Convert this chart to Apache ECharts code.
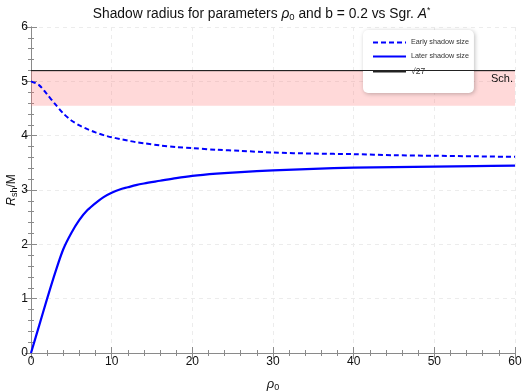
<!DOCTYPE html>
<html><head><meta charset="utf-8">
<script src="https://cdn.jsdelivr.net/npm/echarts@6/dist/echarts.min.js"></script>
<style>html,body{margin:0;padding:0;background:#fff}#c{width:523px;height:392px}</style>
</head><body><div id="c"></div>
<script>
const earlyX = [0, 1, 2, 3, 4, 5, 6, 7, 8, 9, 10, 11, 12, 13, 14, 16, 18, 20, 23, 26, 30, 35, 40, 45, 50, 55, 60];
const earlyY = [5.0, 4.93, 4.76, 4.58, 4.41, 4.28, 4.19, 4.12, 4.06, 4.01, 3.97, 3.94, 3.91, 3.88, 3.86, 3.82, 3.79, 3.77, 3.74, 3.72, 3.69, 3.67, 3.66, 3.64, 3.63, 3.62, 3.61];
const laterX = [0, 1, 2, 3, 4, 5, 6, 7, 8, 9, 10, 11, 12, 13, 14, 16, 18, 20, 23, 26, 30, 35, 40, 45, 50, 55, 60];
const laterY = [0, 0.5, 1.0, 1.48, 1.91, 2.21, 2.45, 2.63, 2.76, 2.87, 2.95, 3.01, 3.05, 3.09, 3.12, 3.17, 3.22, 3.26, 3.30, 3.33, 3.36, 3.39, 3.41, 3.42, 3.43, 3.44, 3.45];
const schRadius = Math.sqrt(27);
const bandLow = 4.55;
const xRange = [0, 60];
const yRange = [0, 6];

const font = '"Liberation Sans", Arial, sans-serif';
const zip = (a, b) => a.map((v, i) => [v, b[i]]);

const chart = echarts.init(document.getElementById('c'));
const frameLine = {show: true, lineStyle: {color: '#8a8a8a', width: 1}};
function xAx(pos, labels) {
  return {
    type: 'value', position: pos, min: xRange[0], max: xRange[1], interval: 10,
    axisLine: frameLine,
    axisTick: {show: true, inside: true, length: 6, lineStyle: {color: '#8a8a8a'}},
    minorTick: {show: true, splitNumber: 5, length: 3, lineStyle: {color: '#8a8a8a'}},
    splitLine: {show: labels, lineStyle: {type: [4, 4], color: '#ececec'}},
    axisLabel: {show: labels, color: '#111', fontSize: 12, fontFamily: font, margin: 3},
    name: labels ? '{i|ρ}{s|0}' : '', nameLocation: 'middle', nameGap: 24, nameMoveOverlap: false,
    nameTextStyle: {rich: {i: {fontStyle: 'italic', fontSize: 13, fontFamily: font, color: '#111'}, s: {fontSize: 9, fontFamily: font, color: '#111', padding: [6, 0, 0, 0]}}}
  };
}
function yAx(pos, labels) {
  return {
    type: 'value', position: pos, min: yRange[0], max: yRange[1], interval: 1,
    axisLine: frameLine,
    axisTick: {show: true, inside: true, length: 6, lineStyle: {color: '#8a8a8a'}},
    minorTick: {show: true, splitNumber: 5, length: 3, lineStyle: {color: '#8a8a8a'}},
    splitLine: {show: labels, lineStyle: {type: [4, 4], color: '#ececec'}},
    axisLabel: {show: labels, color: '#111', fontSize: 12, fontFamily: font, margin: 3},
    name: labels ? '{i|R}{s|sh}{n|/M}' : '', nameLocation: 'middle', nameGap: 12, nameRotate: 90, nameMoveOverlap: false,
    nameTextStyle: {rich: {
      i: {fontStyle: 'italic', fontSize: 12, fontFamily: font, color: '#111'},
      s: {fontSize: 9, fontFamily: font, color: '#111', padding: [5, 0, 0, 0]},
      n: {fontSize: 12, fontFamily: font, color: '#111'}}}
  };
}

chart.setOption({
  animation: false,
  backgroundColor: '#fff',
  title: {
    text: '{n|Shadow radius for parameters }{i|ρ}{s|0}{n| and b = 0.2 vs Sgr. }{i|A}{p|*}',
    left: 'center', top: 1,
    textStyle: {fontWeight: 'normal', rich: {
      n: {fontSize: 13.8, fontFamily: font, color: '#111', fontWeight: 'normal'},
      i: {fontSize: 13.8, fontFamily: font, fontStyle: 'italic', color: '#111', fontWeight: 'normal'},
      s: {fontSize: 9.5, fontFamily: font, color: '#111', padding: [6, 0, 0, 0], fontWeight: 'normal'},
      p: {fontSize: 8.5, fontFamily: font, color: '#111', padding: [0, 0, 6, 0], fontWeight: 'normal'}
    }}
  },
  grid: {left: 31, right: 8, top: 27, bottom: 39, outerBoundsMode: 'none', containLabel: false},
  legend: {
    orient: 'vertical', left: 363, top: 30,
    backgroundColor: '#fff', borderRadius: 5, padding: [9, 5, 17, 9],
    shadowColor: 'rgba(0,0,0,0.25)', shadowBlur: 4, shadowOffsetX: 1, shadowOffsetY: 1,
    itemWidth: 33, itemHeight: 8, itemGap: 7,
    itemStyle: {opacity: 0},
    textStyle: {fontSize: 7.2, fontFamily: font, color: '#333'},
    data: ['Early shadow size', 'Later shadow size', {name: '√27', textStyle: {fontSize: 8.5}}]
  },
  xAxis: [xAx('bottom', true), xAx('top', false)],
  yAxis: [yAx('left', true), yAx('right', false)],
  series: [
    {
      name: '√27', type: 'line', showSymbol: false, symbol: 'none',
      data: [[xRange[0], schRadius], [xRange[1], schRadius]],
      lineStyle: {color: '#222', width: 1}, itemStyle: {color: '#222'},
      markArea: {silent: true, itemStyle: {color: 'rgba(255,120,120,0.28)'},
        data: [[{yAxis: bandLow}, {yAxis: schRadius}]]},
      markLine: {silent: true, symbol: 'none', lineStyle: {color: '#222', width: 1, type: 'solid'},
        label: {formatter: 'Sch.', position: 'insideEndBottom', fontSize: 11, fontFamily: font, color: '#111', distance: [2, 3]},
        data: [{yAxis: schRadius}]}
    },
    {
      name: 'Early shadow size', type: 'line', smooth: 0.3, showSymbol: false, symbol: 'none',
      data: zip(earlyX, earlyY),
      lineStyle: {color: '#0000ff', width: 2, type: [5, 3]}, itemStyle: {color: '#0000ff'}
    },
    {
      name: 'Later shadow size', type: 'line', smooth: 0.3, showSymbol: false, symbol: 'none',
      data: zip(laterX, laterY),
      lineStyle: {color: '#0000ff', width: 2.2}, itemStyle: {color: '#0000ff'}
    }
  ]
});
</script></body></html>
